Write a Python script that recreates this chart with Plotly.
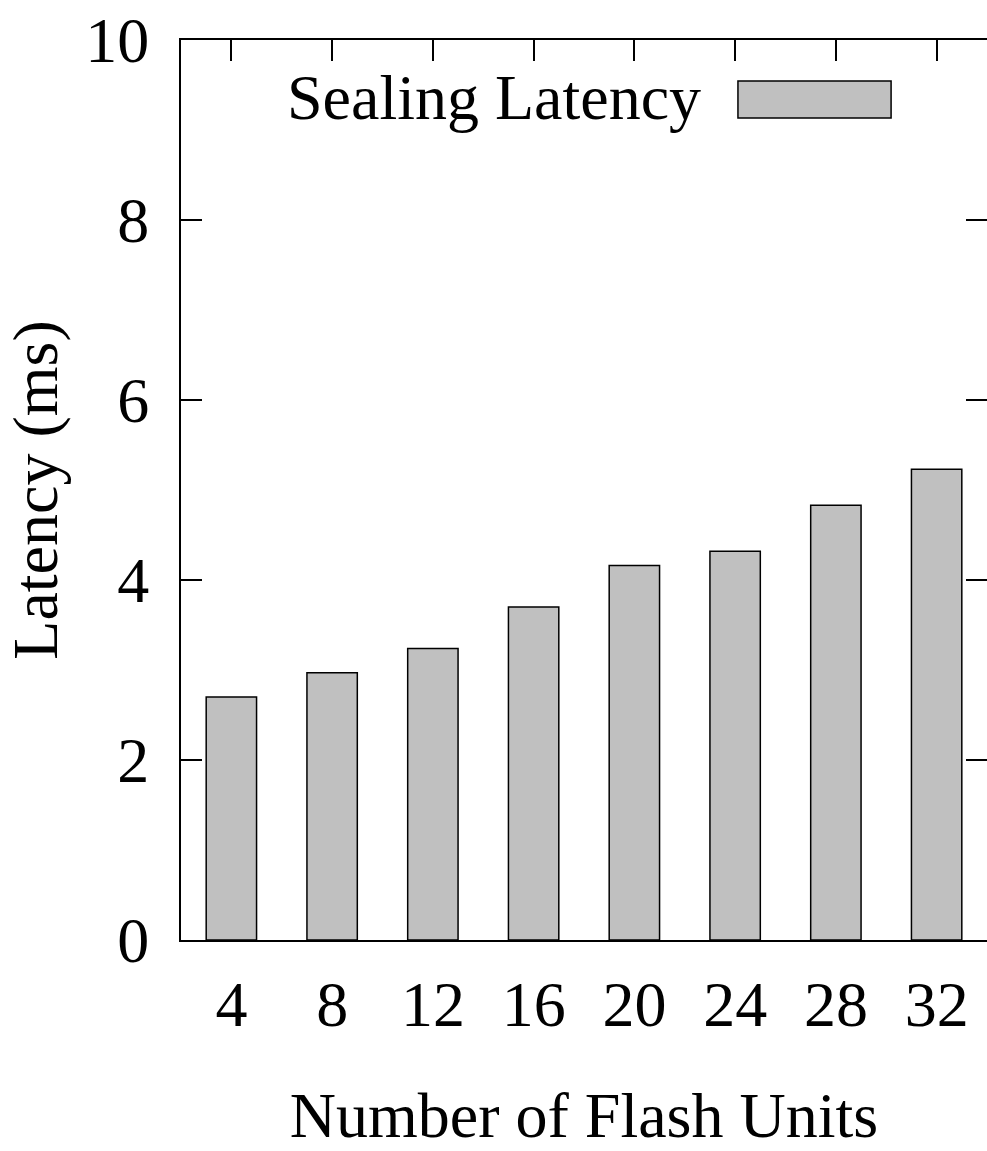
import plotly.graph_objects as go

flash_units = [4, 8, 12, 16, 20, 24, 28, 32]
latency_ms = [2.70, 2.97, 3.24, 3.70, 4.16, 4.32, 4.83, 5.23]
y_ticks = [0, 2, 4, 6, 8, 10]

FONT = "Liberation Serif"
fs = 64

fig = go.Figure()
fig.add_trace(go.Bar(
    x=flash_units, y=latency_ms, width=2,
    name="Sealing Latency",
    marker=dict(color="#c0c0c0", line=dict(color="black", width=1.5)),
    showlegend=False,
))
# invisible trace to get a right-side y axis with inside ticks
fig.add_trace(go.Scatter(x=[flash_units[0]], y=[0], yaxis="y2", mode="markers",
                         marker=dict(opacity=0), showlegend=False, hoverinfo="skip"))

fig.update_layout(
    width=987, height=1151,
    margin=dict(l=181, r=0, t=40, b=211),
    plot_bgcolor="white", paper_bgcolor="white",
    font=dict(family=FONT, size=fs, color="black"),
    xaxis=dict(
        range=[2, 34], tickmode="array", tickvals=flash_units,
        ticktext=[str(v) for v in flash_units],
        ticks="inside", ticklen=21, tickwidth=1.5, tickcolor="black",
        showline=True, linewidth=2, linecolor="black", mirror="ticks",
        showgrid=False, zeroline=False, layer="below traces",
        ticklabelstandoff=7,
        title=dict(text="Number of Flash Units", standoff=57, font=dict(size=fs)),
    ),
    yaxis=dict(
        range=[0, 10], tickmode="array", tickvals=y_ticks,
        ticks="inside", ticklen=21, tickwidth=1.5, tickcolor="black",
        showline=True, linewidth=2, linecolor="black",
        showgrid=False, zeroline=False,
        ticklabelstandoff=17,
        title=dict(text="Latency (ms)", standoff=22, font=dict(size=fs)),
    ),
    yaxis2=dict(
        range=[0, 10], overlaying="y", side="right", tickmode="array",
        tickvals=y_ticks, ticks="inside", ticklen=21, tickwidth=1.5,
        tickcolor="black", showticklabels=False, showline=False,
        showgrid=False, zeroline=False,
    ),
)

# manual legend (gnuplot style key)
fig.add_annotation(xref="paper", yref="paper", x=0.6476, y=0.9356,
                   text="Sealing Latency", showarrow=False, xanchor="right",
                   yanchor="middle", font=dict(family=FONT, size=fs))
fig.add_shape(type="rect", xref="paper", yref="paper",
              x0=0.691, x1=0.881, y0=0.9133, y1=0.9544,
              fillcolor="#c0c0c0", line=dict(color="black", width=1.5))

fig.write_html("out.html", config={"displayModeBar": False},
               post_script="document.body.style.margin='0';document.body.style.overflow='hidden';")
